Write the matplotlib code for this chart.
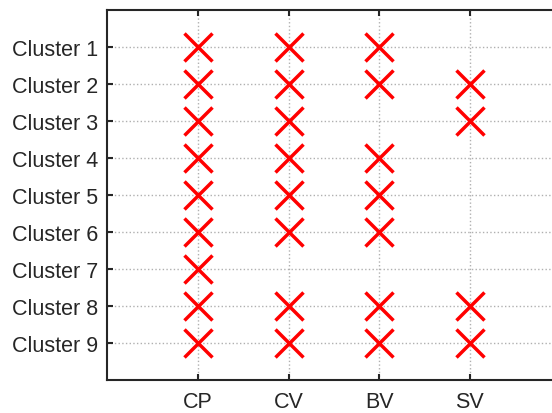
import matplotlib
matplotlib.use('Agg')
import matplotlib.pyplot as plt

clusters = ['Cluster 1', 'Cluster 2', 'Cluster 3', 'Cluster 4', 'Cluster 5',
            'Cluster 6', 'Cluster 7', 'Cluster 8', 'Cluster 9']
methods = ['CP', 'CV', 'BV', 'SV']
# which methods mark each cluster
marks = [
  ['CP', 'CV', 'BV'],
  ['CP', 'CV', 'BV', 'SV'],
  ['CP', 'CV', 'SV'],
  ['CP', 'CV', 'BV'],
  ['CP', 'CV', 'BV'],
  ['CP', 'CV', 'BV'],
  ['CP'],
  ['CP', 'CV', 'BV', 'SV'],
  ['CP', 'CV', 'BV', 'SV'],
]

plt.rcParams['font.family'] = ['Liberation Sans', 'DejaVu Sans']

fig = plt.figure(figsize=(5.52, 4.14), dpi=100)
ax = fig.add_axes([0.1947, 0.0804, 0.8207, 0.893])

xs = []
ys = []
for i, row in enumerate(marks):
  for m in row:
    xs.append(methods.index(m) + 1)
    ys.append(i + 1)
ax.plot(xs, ys, 'x', color='#ff0000', markersize=20, markeredgewidth=2.5, zorder=3)

ax.set_xlim(0, 5)
ax.set_ylim(len(clusters) + 1, 0)
ax.set_xticks(range(1, len(methods) + 1))
ax.set_xticklabels(methods)
ax.set_yticks(range(1, len(clusters) + 1))
ax.set_yticklabels(clusters)
ax.grid(True, linestyle=':', color='#b0b0b0', linewidth=1.0)
ax.tick_params(direction='in', length=4, width=1.5, labelsize=15.5, colors='#262626',
               top=True)
ax.tick_params(axis='y', pad=7)
ax.tick_params(axis='x', pad=8)
for s in ax.spines.values():
  s.set_linewidth(1.5)
  s.set_color('#262626')

fig.savefig('out.png', dpi=100)
